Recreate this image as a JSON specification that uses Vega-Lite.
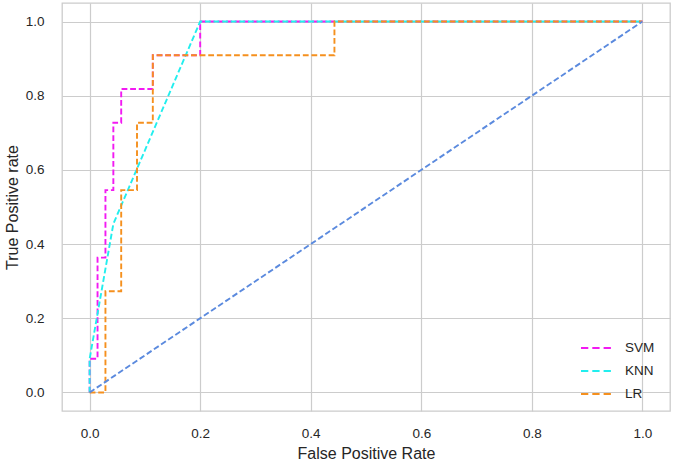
{
  "$schema": "https://vega.github.io/schema/vega-lite/v6.json",
  "description": "ROC curves for SVM, KNN and LR with a chance diagonal.",
  "width": 608,
  "height": 408,
  "autosize": {"type": "none"},
  "padding": {"left": 62, "top": 3, "right": 4, "bottom": 52},
  "background": "white",
  "datasets": {
    "roc": [
      {"model": "SVM", "i": 0, "fpr": 0, "tpr": 0},
      {"model": "SVM", "i": 1, "fpr": 0, "tpr": 0.0909},
      {"model": "SVM", "i": 2, "fpr": 0.0143, "tpr": 0.0909},
      {"model": "SVM", "i": 3, "fpr": 0.0143, "tpr": 0.3636},
      {"model": "SVM", "i": 4, "fpr": 0.0286, "tpr": 0.3636},
      {"model": "SVM", "i": 5, "fpr": 0.0286, "tpr": 0.5455},
      {"model": "SVM", "i": 6, "fpr": 0.0429, "tpr": 0.5455},
      {"model": "SVM", "i": 7, "fpr": 0.0429, "tpr": 0.7273},
      {"model": "SVM", "i": 8, "fpr": 0.0571, "tpr": 0.7273},
      {"model": "SVM", "i": 9, "fpr": 0.0571, "tpr": 0.8182},
      {"model": "SVM", "i": 10, "fpr": 0.1143, "tpr": 0.8182},
      {"model": "SVM", "i": 11, "fpr": 0.1143, "tpr": 0.9091},
      {"model": "SVM", "i": 12, "fpr": 0.2, "tpr": 0.9091},
      {"model": "SVM", "i": 13, "fpr": 0.2, "tpr": 1},
      {"model": "SVM", "i": 14, "fpr": 1, "tpr": 1},
      {"model": "KNN", "i": 0, "fpr": 0, "tpr": 0},
      {"model": "KNN", "i": 1, "fpr": 0, "tpr": 0.0909},
      {"model": "KNN", "i": 2, "fpr": 0.0429, "tpr": 0.4545},
      {"model": "KNN", "i": 3, "fpr": 0.2, "tpr": 1},
      {"model": "KNN", "i": 4, "fpr": 1, "tpr": 1},
      {"model": "LR", "i": 0, "fpr": 0, "tpr": 0},
      {"model": "LR", "i": 1, "fpr": 0.0286, "tpr": 0},
      {"model": "LR", "i": 2, "fpr": 0.0286, "tpr": 0.2727},
      {"model": "LR", "i": 3, "fpr": 0.0571, "tpr": 0.2727},
      {"model": "LR", "i": 4, "fpr": 0.0571, "tpr": 0.5455},
      {"model": "LR", "i": 5, "fpr": 0.0857, "tpr": 0.5455},
      {"model": "LR", "i": 6, "fpr": 0.0857, "tpr": 0.7273},
      {"model": "LR", "i": 7, "fpr": 0.1143, "tpr": 0.7273},
      {"model": "LR", "i": 8, "fpr": 0.1143, "tpr": 0.9091},
      {"model": "LR", "i": 9, "fpr": 0.4429, "tpr": 0.9091},
      {"model": "LR", "i": 10, "fpr": 0.4429, "tpr": 1},
      {"model": "LR", "i": 11, "fpr": 1, "tpr": 1}
    ],
    "chance": [
      {"i": 0, "fpr": 0, "tpr": 0},
      {"i": 1, "fpr": 1, "tpr": 1}
    ]
  },
  "layer": [
    {
      "data": {"name": "roc"},
      "mark": {"type": "line", "strokeWidth": 1.9, "strokeDash": [5.8, 2.8]},
      "encoding": {
        "x": {
          "field": "fpr",
          "type": "quantitative",
          "scale": {"domain": [-0.05, 1.05], "nice": false, "zero": false},
          "axis": {"title": "False Positive Rate", "values": [0, 0.2, 0.4, 0.6, 0.8, 1.0], "format": ".1f"}
        },
        "y": {
          "field": "tpr",
          "type": "quantitative",
          "scale": {"domain": [-0.05, 1.05], "nice": false, "zero": false},
          "axis": {"title": "True Positive rate", "values": [0, 0.2, 0.4, 0.6, 0.8, 1.0], "format": ".1f"}
        },
        "order": {"field": "i", "type": "quantitative"},
        "color": {
          "field": "model",
          "type": "nominal",
          "scale": {"domain": ["SVM", "KNN", "LR"], "range": ["#f21af2", "#22eeee", "#f5901e"]},
          "legend": {
            "title": null,
            "orient": "none",
            "legendX": 518,
            "legendY": 329,
            "symbolType": "stroke",
            "symbolSize": 900,
            "symbolStrokeWidth": 1.9,
            "symbolDash": [7.3, 4],
            "labelFontSize": 13.5,
            "labelFont": "Liberation Sans",
            "labelColor": "#262626",
            "labelOffset": 13,
            "rowPadding": -8.5,
            "padding": 0
          }
        }
      }
    },
    {
      "data": {"name": "chance"},
      "mark": {"type": "line", "strokeWidth": 1.9, "strokeDash": [5.8, 2.8], "color": "#5b8ade"},
      "encoding": {
        "x": {"field": "fpr", "type": "quantitative"},
        "y": {"field": "tpr", "type": "quantitative"},
        "order": {"field": "i", "type": "quantitative"}
      }
    }
  ],
  "config": {
    "view": {"stroke": "#cccccc", "strokeWidth": 1.3},
    "axis": {
      "domain": false,
      "ticks": false,
      "grid": true,
      "gridColor": "#cccccc",
      "gridWidth": 1.2,
      "labelFont": "Liberation Sans",
      "labelFontSize": 13.5,
      "labelColor": "#262626",
      "titleFont": "Liberation Sans",
      "titleFontSize": 16,
      "titleFontWeight": "normal",
      "titleColor": "#262626"
    },
    "axisX": {"labelPadding": 15, "titlePadding": 6},
    "axisY": {"labelPadding": 18, "titlePadding": 5}
  }
}
